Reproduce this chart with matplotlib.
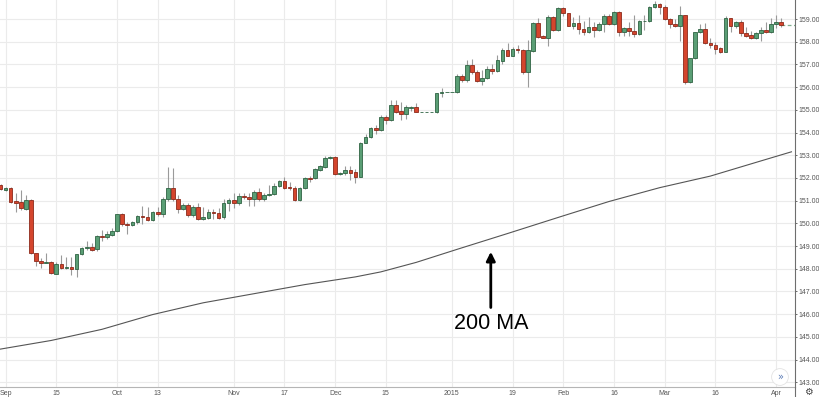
import numpy as np
import matplotlib
matplotlib.use('Agg')
import matplotlib.pyplot as plt
from matplotlib.lines import Line2D

# Velas diarias (índice = día hábil desde el 29 ago 2014)
opens = [151.69, 151.47, 151.57, 151.00, 150.93, 150.62, 151.03, 148.68, 148.35, 148.26,
         148.28, 147.78, 148.21, 148.03, 148.06, 147.97, 148.63, 148.92, 148.97, 148.85,
         149.44, 149.41, 149.49, 149.67, 150.41, 149.96, 149.91, 150.07, 150.32, 150.29,
         150.15, 150.51, 150.41, 151.07, 151.54, 151.06, 150.63, 150.80, 150.37, 150.70,
         150.19, 150.24, 150.51, 150.47, 150.27, 150.88, 151.03, 150.91, 151.20, 151.16,
         151.07, 151.37, 151.07, 151.25, 151.28, 151.64, 151.85, 151.58, 151.55, 151.03,
         151.54, 152.01, 152.01, 152.36, 152.49, 152.86, 152.91, 152.17, 152.23, 152.35,
         152.25, 152.05, 153.55, 153.81, 154.21, 154.11, 154.67, 154.55, 155.21, 154.95,
         154.80, 155.10, 155.11, 154.90, 154.90, 154.90, 154.90, 155.73, 155.77, 155.77,
         155.77, 156.49, 156.31, 156.97, 156.68, 156.28, 156.39, 156.78, 156.71, 157.16,
         157.63, 157.38, 157.67, 157.63, 156.68, 157.60, 158.84, 158.25, 158.18, 159.07,
         158.52, 159.47, 159.25, 158.71, 158.82, 158.56, 158.41, 158.63, 158.52, 158.78,
         159.15, 158.78, 159.30, 158.41, 158.59, 158.49, 158.34, 158.91, 158.91, 159.51,
         159.66, 159.51, 159.00, 158.78, 158.71, 159.18, 156.21, 157.27, 158.41, 158.56,
         157.96, 157.85, 157.71, 157.56, 159.03, 158.71, 158.85, 158.37, 158.29, 158.15,
         158.37, 158.51, 158.41, 158.78, 158.85]
highs = [151.75, 151.61, 151.62, 151.32, 151.47, 151.25, 151.08, 148.70, 148.46, 148.68,
         148.32, 148.31, 148.60, 148.50, 148.53, 148.66, 148.97, 149.22, 149.12, 149.47,
         149.70, 149.66, 149.78, 150.43, 150.44, 150.07, 150.10, 150.37, 150.76, 150.73,
         150.53, 150.73, 151.17, 152.48, 152.45, 151.25, 150.91, 150.88, 150.81, 150.88,
         150.73, 150.64, 150.64, 150.68, 151.06, 151.10, 151.35, 151.32, 151.32, 151.35,
         151.47, 151.54, 151.32, 151.69, 151.76, 151.92, 152.03, 151.83, 151.66, 151.58,
         152.05, 152.10, 152.44, 152.58, 152.97, 152.98, 152.95, 152.24, 152.52, 152.52,
         152.38, 153.58, 153.93, 154.25, 154.33, 154.77, 154.77, 155.43, 155.43, 155.36,
         155.20, 155.16, 155.31, 154.90, 154.90, 154.90, 155.76, 155.95, 155.77, 155.77,
         156.56, 156.58, 157.19, 157.22, 156.76, 156.75, 156.92, 157.02, 157.41, 157.71,
         157.96, 157.78, 157.85, 157.66, 158.07, 158.86, 159.03, 158.30, 159.18, 159.12,
         159.54, 159.52, 159.28, 159.10, 159.18, 158.93, 159.09, 158.88, 158.88, 159.22,
         159.22, 159.37, 159.34, 158.66, 158.88, 159.18, 158.96, 159.18, 159.57, 159.80,
         159.71, 159.62, 159.03, 158.99, 159.57, 159.18, 157.27, 158.44, 158.78, 158.81,
         158.15, 158.00, 157.78, 159.13, 159.03, 158.93, 158.96, 158.63, 158.45, 158.44,
         158.63, 158.88, 159.03, 159.18, 159.03]
lows = [151.45, 151.43, 150.88, 150.51, 150.59, 150.59, 148.66, 148.13, 148.02, 148.24,
        147.75, 147.75, 147.99, 147.97, 147.72, 147.62, 148.60, 148.82, 148.78, 148.80,
        149.23, 149.31, 149.44, 149.62, 149.90, 149.52, 149.88, 149.97, 149.97, 150.12,
        150.10, 150.32, 150.26, 151.00, 151.00, 150.44, 150.59, 150.29, 150.29, 150.15,
        150.15, 150.20, 150.19, 150.19, 150.20, 150.55, 150.66, 150.82, 151.06, 150.78,
        150.78, 151.00, 151.00, 151.22, 151.24, 151.60, 151.53, 151.47, 150.97, 151.00,
        151.50, 151.83, 151.96, 152.30, 152.45, 152.82, 152.15, 152.13, 152.13, 151.91,
        151.79, 152.02, 153.52, 153.77, 153.93, 154.08, 154.36, 154.50, 154.85, 154.55,
        154.60, 154.95, 154.90, 154.90, 154.90, 154.90, 154.88, 155.58, 155.77, 155.77,
        155.75, 156.24, 156.24, 156.58, 156.24, 156.09, 156.35, 156.58, 156.68, 157.00,
        157.35, 157.36, 157.52, 156.58, 155.99, 157.56, 158.15, 158.15, 157.81, 158.48,
        158.48, 159.13, 158.68, 158.55, 158.34, 158.30, 158.37, 158.19, 158.47, 158.44,
        158.75, 158.75, 158.26, 158.26, 158.26, 158.19, 158.30, 158.52, 158.88, 159.47,
        159.22, 158.96, 158.59, 158.66, 158.04, 156.14, 156.16, 157.24, 158.37, 157.89,
        157.74, 157.44, 157.49, 157.54, 158.44, 158.59, 158.25, 158.22, 158.12, 158.12,
        158.04, 158.37, 158.37, 158.59, 158.63]
closes = [151.50, 151.57, 150.95, 150.91, 150.66, 151.03, 148.68, 148.35, 148.26, 148.29,
          147.80, 148.21, 148.04, 148.06, 147.97, 148.63, 148.92, 148.97, 148.82, 149.44,
          149.41, 149.52, 149.67, 150.41, 149.96, 149.91, 150.07, 150.32, 150.29, 150.15,
          150.50, 150.41, 151.07, 151.54, 151.06, 150.63, 150.82, 150.37, 150.70, 150.20,
          150.26, 150.51, 150.44, 150.25, 150.88, 151.03, 150.91, 151.21, 151.14, 151.08,
          151.37, 151.07, 151.25, 151.29, 151.64, 151.85, 151.57, 151.54, 151.03, 151.54,
          151.98, 151.95, 152.38, 152.52, 152.89, 152.93, 152.19, 152.20, 152.35, 152.23,
          152.05, 153.55, 153.81, 154.18, 154.11, 154.67, 154.55, 155.21, 154.92, 154.80,
          155.11, 155.13, 154.92, 154.90, 154.90, 154.90, 155.73, 155.80, 155.77, 155.77,
          156.49, 156.31, 156.97, 156.68, 156.28, 156.40, 156.78, 156.71, 157.19, 157.63,
          157.38, 157.66, 157.63, 156.68, 157.63, 158.84, 158.22, 158.18, 159.07, 158.52,
          159.47, 159.25, 158.71, 158.82, 158.56, 158.41, 158.63, 158.52, 158.78, 159.15,
          158.78, 159.32, 158.41, 158.59, 158.49, 158.34, 158.91, 158.93, 159.54, 159.66,
          159.51, 159.00, 158.77, 158.71, 159.18, 156.21, 157.27, 158.41, 158.56, 157.93,
          157.85, 157.68, 157.56, 159.03, 158.71, 158.85, 158.37, 158.26, 158.15, 158.40,
          158.51, 158.41, 158.78, 158.87, 158.75]

ma_idx = [0, 10, 20, 30, 40, 50, 60, 70, 75, 82, 90, 100, 110, 120, 130, 140, 150, 156]
ma_vals = [144.46, 144.84, 145.33, 145.98, 146.50, 146.90, 147.30, 147.64, 147.86, 148.28,
           148.85, 149.55, 150.26, 150.96, 151.57, 152.08, 152.75, 153.15]

tick_idx = [1, 11, 23, 31, 46, 56, 66, 76, 89, 101, 111, 121, 131, 141, 153]
tick_labels = ['Sep', '15', 'Oct', '13', 'Nov', '17', 'Dec', '15', '2015',
               '19', 'Feb', '16', 'Mar', '16', 'Apr']
price_ticks = list(range(143, 160))

GREEN = '#5a9e75'
GREEN_EDGE = '#2f6343'
RED = '#d4452d'
RED_EDGE = '#8c2a1b'


def draw_candles(ax):
    """Dibuja mechas y cuerpos de las velas."""
    idx = np.arange(len(opens))
    o = np.array(opens)
    c = np.array(closes)
    up = c >= o
    ax.vlines(idx, lows, highs, color='#9a9a9a', lw=0.8, zorder=2)
    ax.bar(idx, c - o, bottom=o, width=0.72,
           color=np.where(up, GREEN, RED),
           edgecolor=np.where(up, GREEN_EDGE, RED_EDGE),
           linewidth=0.6, zorder=3)
    # línea del último precio
    ax.plot([idx[-1], 157], [closes[-1], closes[-1]], ls=(0, (3, 2)),
            color='#7fae8e', lw=0.9, zorder=2)


fig = plt.figure(figsize=(8.19, 3.97), dpi=100)
ax = fig.add_axes([0, 10 / 397, 795 / 819, 387 / 397])

draw_candles(ax)
ax.plot(ma_idx, ma_vals, color='#555555', lw=0.8, zorder=2)

arrow_x = 96.7
tip = np.interp(arrow_x, ma_idx, ma_vals) - 0.45
ax.annotate('', xy=(arrow_x, tip), xytext=(arrow_x, tip - 2.7),
            arrowprops=dict(arrowstyle='-|>', color='black', lw=2,
                            mutation_scale=13))
ax.text(arrow_x, tip - 3.3, '200 MA', ha='center', va='center',
        fontsize=15.5, color='black',
        family=['Liberation Sans Narrow', 'Liberation Sans', 'DejaVu Sans'])

ax.set_xlim(-0.1, 156.7)
ax.set_ylim(142.79, 159.837)
ax.set_xticks(tick_idx)
ax.set_xticklabels(tick_labels)
ax.set_yticks(price_ticks)
ax.set_yticklabels([f'{p:.2f}' for p in price_ticks])
ax.yaxis.tick_right()
ax.tick_params(axis='both', labelsize=5, colors='#555555', width=0.6)
ax.tick_params(axis='x', length=0, pad=2.5)
ax.tick_params(axis='y', length=1.5, pad=1)
for lbl in ax.get_xticklabels() + ax.get_yticklabels():
    lbl.set_family('Liberation Sans')
ax.grid(True, color='#ebebeb', lw=0.8, zorder=0)
ax.set_axisbelow(True)
for side in ['top', 'left']:
    ax.spines[side].set_visible(False)
ax.spines['right'].set_color('#6e6e6e')
ax.spines['bottom'].set_color('#b5b5b5')
ax.spines['right'].set_linewidth(0.8)
ax.spines['bottom'].set_linewidth(0.8)

# prolongación del eje derecho y botones de la plataforma
fig.add_artist(Line2D([795 / 819, 795 / 819], [0, 10 / 397], color='#6e6e6e', lw=0.8))
fig.text(780 / 819, 1 - 377 / 397, '»', ha='center', va='center', fontsize=7,
         color='#5b7bb5',
         bbox=dict(boxstyle='circle,pad=0.35', fc='white', ec='#e3e3e3', lw=0.6))
fig.text(808 / 819, 1 - 392 / 397, '⚙', ha='center', va='center', fontsize=7,
         color='#444444')

fig.savefig('out.png', dpi=100)
